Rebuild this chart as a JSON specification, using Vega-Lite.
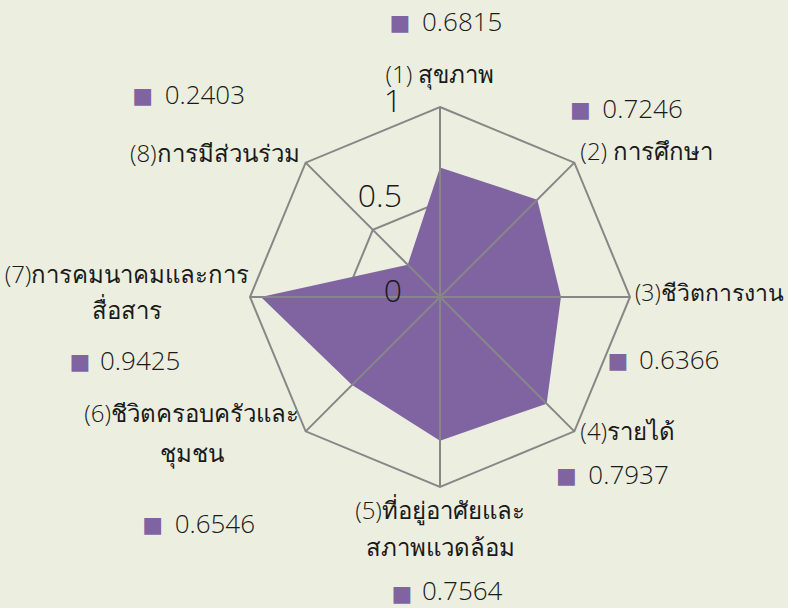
{
  "$schema": "https://vega.github.io/schema/vega-lite/v6.json",
  "width": 788,
  "height": 608,
  "padding": 0,
  "autosize": {"type": "none"},
  "background": "#ECEFE0",
  "config": {"view": {"stroke": null}, "font": "Open Sans", "text": {"color": "#1a1a1a", "fontWeight": 300}},
  "datasets": {
    "scores": [
      {"idx": 0, "label": "(1) สุขภาพ", "value": 0.6815},
      {"idx": 1, "label": "(2) การศึกษา", "value": 0.7246},
      {"idx": 2, "label": "(3)ชีวิตการงาน", "value": 0.6366},
      {"idx": 3, "label": "(4)รายได้", "value": 0.7937},
      {"idx": 4, "label": "(5)ที่อยู่อาศัยและ\nสภาพแวดล้อม", "value": 0.7564},
      {"idx": 5, "label": "(6)ชีวิตครอบครัวและ\nชุมชน", "value": 0.6546},
      {"idx": 6, "label": "(7)การคมนาคมและการ\nสื่อสาร", "value": 0.9425},
      {"idx": 7, "label": "(8)การมีส่วนร่วม", "value": 0.2403}
    ],
    "gridRings": [
      {"ring": 0.5, "idx": 0}, {"ring": 0.5, "idx": 1}, {"ring": 0.5, "idx": 2}, {"ring": 0.5, "idx": 3},
      {"ring": 0.5, "idx": 4}, {"ring": 0.5, "idx": 5}, {"ring": 0.5, "idx": 6}, {"ring": 0.5, "idx": 7},
      {"ring": 1, "idx": 0}, {"ring": 1, "idx": 1}, {"ring": 1, "idx": 2}, {"ring": 1, "idx": 3},
      {"ring": 1, "idx": 4}, {"ring": 1, "idx": 5}, {"ring": 1, "idx": 6}, {"ring": 1, "idx": 7}
    ],
    "tickLabels": [
      {"tick": 0, "tickText": "0"},
      {"tick": 0.5, "tickText": "0.5"},
      {"tick": 1, "tickText": "1"}
    ]
  },
  "data": {"name": "scores"},
  "transform": [
    {"calculate": "datum.idx * PI / 4", "as": "a"},
    {"calculate": "sin(datum.a)", "as": "vx"},
    {"calculate": "cos(datum.a)", "as": "vy"},
    {"calculate": "datum.value * datum.vx", "as": "px"},
    {"calculate": "datum.value * datum.vy", "as": "py"}
  ],
  "encoding": {
    "x": {"field": "vx", "type": "quantitative", "scale": {"domain": [-1, 1], "range": [250, 630], "nice": false, "zero": false}, "axis": null},
    "y": {"field": "vy", "type": "quantitative", "scale": {"domain": [-1, 1], "range": [487, 107], "nice": false, "zero": false}, "axis": null}
  },
  "layer": [
    {
      "data": {"name": "gridRings"},
      "transform": [
        {"calculate": "datum.ring * sin(datum.idx * PI / 4)", "as": "gx"},
        {"calculate": "datum.ring * cos(datum.idx * PI / 4)", "as": "gy"}
      ],
      "mark": {"type": "line", "interpolate": "linear-closed", "stroke": "#878787", "strokeWidth": 2},
      "encoding": {
        "x": {"field": "gx", "type": "quantitative"},
        "y": {"field": "gy", "type": "quantitative"},
        "detail": {"field": "ring"},
        "order": {"field": "idx"}
      }
    },
    {
      "mark": {"type": "line", "interpolate": "linear-closed", "fill": "#8064A2", "stroke": "#8064A2", "strokeWidth": 0},
      "encoding": {
        "x": {"field": "px", "type": "quantitative"},
        "y": {"field": "py", "type": "quantitative"},
        "order": {"field": "idx"}
      }
    },
    {
      "mark": {"type": "rule", "stroke": "#878787", "strokeWidth": 2},
      "encoding": {
        "x": {"datum": 0},
        "y": {"datum": 0},
        "x2": {"field": "vx"},
        "y2": {"field": "vy"}
      }
    },
    {
      "data": {"name": "tickLabels"},
      "transform": [{"calculate": "0", "as": "tx"}],
      "mark": {"type": "text", "align": "right", "baseline": "middle", "dx": -38, "dy": -5, "fontSize": 32},
      "encoding": {
        "x": {"field": "tx", "type": "quantitative"},
        "y": {"field": "tick", "type": "quantitative"},
        "text": {"field": "tickText"}
      }
    },
    {"transform": [{"filter": "datum.idx == 0"}], "mark": {"type": "text", "align": "center", "baseline": "middle", "dx": 0, "dy": -31, "fontSize": 24}, "encoding": {"text": {"field": "label"}}},
    {"transform": [{"filter": "datum.idx == 1"}], "mark": {"type": "text", "align": "left", "baseline": "middle", "dx": 6, "dy": -10, "fontSize": 24}, "encoding": {"text": {"field": "label"}}},
    {"transform": [{"filter": "datum.idx == 2"}], "mark": {"type": "text", "align": "left", "baseline": "middle", "dx": 5, "dy": -3, "fontSize": 23}, "encoding": {"text": {"field": "label"}}},
    {"transform": [{"filter": "datum.idx == 3"}], "mark": {"type": "text", "align": "left", "baseline": "middle", "dx": 6, "dy": 2, "fontSize": 24}, "encoding": {"text": {"field": "label"}}},
    {"transform": [{"filter": "datum.idx == 4"}], "mark": {"type": "text", "align": "center", "baseline": "middle", "lineBreak": "\n", "lineHeight": 37, "dx": 0, "dy": 25, "fontSize": 24}, "encoding": {"text": {"field": "label"}}},
    {"transform": [{"filter": "datum.idx == 5"}], "mark": {"type": "text", "align": "center", "baseline": "middle", "lineBreak": "\n", "lineHeight": 40, "dx": -114, "dy": -16, "fontSize": 24}, "encoding": {"text": {"field": "label"}}},
    {"transform": [{"filter": "datum.idx == 6"}], "mark": {"type": "text", "align": "center", "baseline": "middle", "lineBreak": "\n", "lineHeight": 36, "dx": -123, "dy": -21, "fontSize": 24}, "encoding": {"text": {"field": "label"}}},
    {"transform": [{"filter": "datum.idx == 7"}], "mark": {"type": "text", "align": "right", "baseline": "middle", "dx": -6, "dy": -8, "fontSize": 24}, "encoding": {"text": {"field": "label"}}},

    {"transform": [{"filter": "datum.idx == 0"}], "mark": {"type": "text", "align": "center", "baseline": "middle", "dx": -40, "dy": -84, "fontSize": 22, "font": "DejaVu Sans", "fontWeight": "normal", "color": "#8064A2", "text": "■"}},
    {"transform": [{"filter": "datum.idx == 1"}], "mark": {"type": "text", "align": "center", "baseline": "middle", "dx": 6, "dy": -53, "fontSize": 22, "font": "DejaVu Sans", "fontWeight": "normal", "color": "#8064A2", "text": "■"}},
    {"transform": [{"filter": "datum.idx == 2"}], "mark": {"type": "text", "align": "center", "baseline": "middle", "dx": -12, "dy": 64, "fontSize": 22, "font": "DejaVu Sans", "fontWeight": "normal", "color": "#8064A2", "text": "■"}},
    {"transform": [{"filter": "datum.idx == 3"}], "mark": {"type": "text", "align": "center", "baseline": "middle", "dx": -8, "dy": 45, "fontSize": 22, "font": "DejaVu Sans", "fontWeight": "normal", "color": "#8064A2", "text": "■"}},
    {"transform": [{"filter": "datum.idx == 4"}], "mark": {"type": "text", "align": "center", "baseline": "middle", "dx": -38, "dy": 107, "fontSize": 22, "font": "DejaVu Sans", "fontWeight": "normal", "color": "#8064A2", "text": "■"}},
    {"transform": [{"filter": "datum.idx == 5"}], "mark": {"type": "text", "align": "center", "baseline": "middle", "dx": -153, "dy": 94, "fontSize": 22, "font": "DejaVu Sans", "fontWeight": "normal", "color": "#8064A2", "text": "■"}},
    {"transform": [{"filter": "datum.idx == 6"}], "mark": {"type": "text", "align": "center", "baseline": "middle", "dx": -170, "dy": 65, "fontSize": 22, "font": "DejaVu Sans", "fontWeight": "normal", "color": "#8064A2", "text": "■"}},
    {"transform": [{"filter": "datum.idx == 7"}], "mark": {"type": "text", "align": "center", "baseline": "middle", "dx": -163, "dy": -67, "fontSize": 22, "font": "DejaVu Sans", "fontWeight": "normal", "color": "#8064A2", "text": "■"}},

    {"transform": [{"filter": "datum.idx == 0"}], "mark": {"type": "text", "align": "left", "baseline": "middle", "dx": -18, "dy": -84, "fontSize": 26}, "encoding": {"text": {"field": "value", "format": ".4f"}}},
    {"transform": [{"filter": "datum.idx == 1"}], "mark": {"type": "text", "align": "left", "baseline": "middle", "dx": 28, "dy": -53, "fontSize": 26}, "encoding": {"text": {"field": "value", "format": ".4f"}}},
    {"transform": [{"filter": "datum.idx == 2"}], "mark": {"type": "text", "align": "left", "baseline": "middle", "dx": 9, "dy": 64, "fontSize": 26}, "encoding": {"text": {"field": "value", "format": ".4f"}}},
    {"transform": [{"filter": "datum.idx == 3"}], "mark": {"type": "text", "align": "left", "baseline": "middle", "dx": 14, "dy": 45, "fontSize": 26}, "encoding": {"text": {"field": "value", "format": ".4f"}}},
    {"transform": [{"filter": "datum.idx == 4"}], "mark": {"type": "text", "align": "left", "baseline": "middle", "dx": -18, "dy": 105, "fontSize": 26}, "encoding": {"text": {"field": "value", "format": ".4f"}}},
    {"transform": [{"filter": "datum.idx == 5"}], "mark": {"type": "text", "align": "left", "baseline": "middle", "dx": -131, "dy": 94, "fontSize": 26}, "encoding": {"text": {"field": "value", "format": ".4f"}}},
    {"transform": [{"filter": "datum.idx == 6"}], "mark": {"type": "text", "align": "left", "baseline": "middle", "dx": -150, "dy": 65, "fontSize": 26}, "encoding": {"text": {"field": "value", "format": ".4f"}}},
    {"transform": [{"filter": "datum.idx == 7"}], "mark": {"type": "text", "align": "left", "baseline": "middle", "dx": -141, "dy": -67, "fontSize": 26}, "encoding": {"text": {"field": "value", "format": ".4f"}}}
  ]
}
